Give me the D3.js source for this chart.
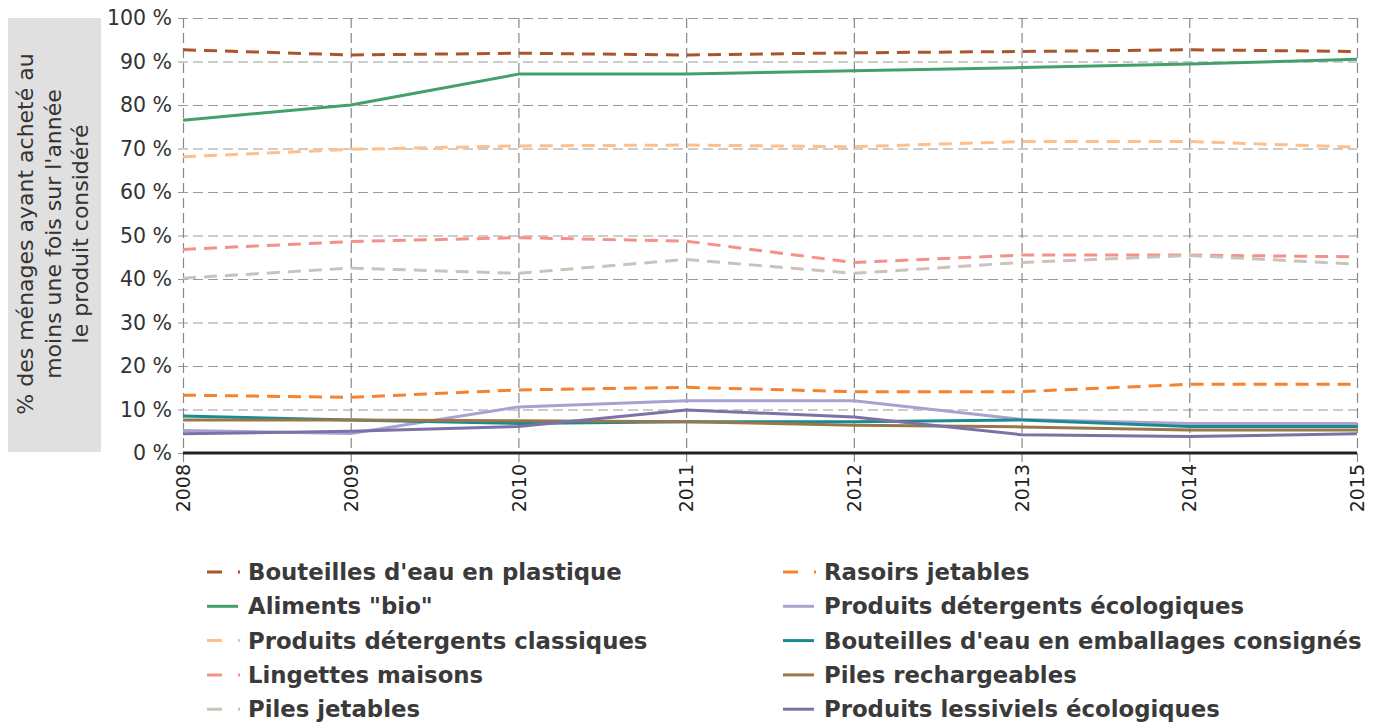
<!DOCTYPE html>
<html><head><meta charset="utf-8">
<script src="https://cdn.jsdelivr.net/npm/d3@7"></script>
<style>body{margin:0;background:#fff;} svg{display:block;font-family:"DejaVu Sans",sans-serif;}</style>
</head><body>
<svg id="c" width="1386" height="725"></svg>
<script>
const years = [2008, 2009, 2010, 2011, 2012, 2013, 2014, 2015];
const yTicks = [0, 10, 20, 30, 40, 50, 60, 70, 80, 90, 100];
const seriesNames = [
  "Bouteilles d'eau en plastique", "Aliments \"bio\"", "Produits détergents classiques",
  "Lingettes maisons", "Piles jetables", "Rasoirs jetables",
  "Produits détergents écologiques", "Bouteilles d'eau en emballages consignés",
  "Piles rechargeables", "Produits lessiviels écologiques"
];
const bouteillesPlastique = [92.7, 91.5, 91.9, 91.5, 92.0, 92.3, 92.7, 92.3];
const alimentsBio = [76.5, 80.0, 87.1, 87.1, 87.9, 88.6, 89.4, 90.5];
const detergentsClassiques = [68.1, 69.8, 70.6, 70.8, 70.4, 71.6, 71.6, 70.3];
const lingettes = [46.8, 48.6, 49.5, 48.7, 43.8, 45.5, 45.5, 45.1];
const pilesJetables = [40.2, 42.5, 41.3, 44.5, 41.3, 43.8, 45.4, 43.4];
const rasoirs = [13.3, 12.8, 14.5, 15.1, 14.1, 14.1, 15.8, 15.8];
const detergentsEco = [5.2, 4.5, 10.6, 12.0, 12.0, 7.7, 6.8, 6.8];
const bouteillesConsignes = [8.5, 7.6, 6.8, 7.2, 7.2, 7.6, 6.1, 6.1];
const pilesRechargeables = [7.6, 7.6, 7.4, 7.2, 6.4, 6.0, 5.3, 5.3];
const lessiviels = [4.4, 5.0, 6.1, 9.9, 8.3, 4.2, 3.8, 4.4];

const seriesValues = [bouteillesPlastique, alimentsBio, detergentsClassiques, lingettes, pilesJetables,
  rasoirs, detergentsEco, bouteillesConsignes, pilesRechargeables, lessiviels];
const colors = ["#a9542b", "#43a06c", "#fdc08c", "#f4918a", "#cbc3ba",
  "#f5822f", "#a9a1d0", "#1a8a8f", "#98784a", "#7d72a6"];
const dashed = [true, false, true, true, true, true, false, false, false, false];

const svg = d3.select("#c");
const L = 183, R = 1357, T = 18, B = 453;
const x = d3.scalePoint().domain(years).range([L, R]);
const y = d3.scaleLinear().domain([0, 100]).range([B, T]);

// y-axis label box
svg.append("rect").attr("x", 8).attr("y", 18).attr("width", 93).attr("height", 434).attr("fill", "#e0e0e0");
const lblLines = ["% des ménages ayant acheté au", "moins une fois sur l'année", "le produit considéré"];
const lbl = svg.append("text").attr("transform", "translate(53,234) rotate(-90)")
  .attr("text-anchor", "middle").attr("font-size", 22).attr("fill", "#333");
lblLines.forEach((t, i) => lbl.append("tspan").attr("x", 0).attr("y", (i - 1) * 27.5).attr("dy", "0.35em").text(t));

// horizontal grid
const yAxis = d3.axisLeft(y).tickValues(yTicks).tickFormat(d => d + " %").tickSize(-(R - L) - 5).tickPadding(6);
const gy = svg.append("g").attr("transform", `translate(${L - 5},0)`).call(yAxis);
gy.select(".domain").remove();
gy.selectAll(".tick line").attr("stroke", "#999").attr("stroke-dasharray", "10,5").attr("stroke-width", 1.2);
gy.selectAll(".tick text").attr("font-size", 20.5).attr("fill", "#333").attr("font-family", "DejaVu Sans");

// vertical grid
const xAxis = d3.axisBottom(x).tickSize(-(B - T)).tickSizeOuter(0).tickPadding(0);
const gx = svg.append("g").attr("transform", `translate(0,${B + 9})`).call(xAxis);
gx.select(".domain").remove();
gx.selectAll(".tick line").attr("y1", -(B - T) - 9).attr("y2", 0).attr("stroke", "#888").attr("stroke-dasharray", "10,5").attr("stroke-width", 1.2);
gx.selectAll(".tick text").attr("font-size", 19).attr("fill", "#222").attr("font-family", "DejaVu Sans")
  .attr("text-anchor", "end").attr("x", -2).attr("y", 0).attr("dy", "0.35em")
  .attr("transform", "rotate(-90)");

// baseline
svg.append("line").attr("x1", L).attr("x2", R).attr("y1", y(0)).attr("y2", y(0)).attr("stroke", "#222").attr("stroke-width", 3);

// lines
const line = d3.line().x((d, i) => x(years[i])).y(d => y(d));
seriesValues.forEach((vals, k) => {
  svg.append("path").attr("d", line(vals)).attr("fill", "none").attr("stroke", colors[k])
    .attr("stroke-width", 3).attr("stroke-linejoin", "round")
    .attr("stroke-dasharray", dashed[k] ? "13,8" : null);
});

// legend
const legX = [207, 783], legY0 = 572, legDy = 34.3;
seriesNames.forEach((name, k) => {
  const col = k < 5 ? 0 : 1, row = k % 5;
  const g = svg.append("g").attr("transform", `translate(${legX[col]},${legY0 + row * legDy})`);
  g.append("line").attr("x1", 0).attr("x2", dashed[k] ? 33 : 31).attr("y1", 0).attr("y2", 0)
    .attr("stroke", colors[k]).attr("stroke-width", 3)
    .attr("stroke-dasharray", dashed[k] ? "15,16" : null);
  g.append("text").attr("x", 41).attr("y", 0).attr("dy", "0.35em").attr("font-size", 22.8)
    .attr("font-weight", "bold").attr("fill", "#3a3a3a").text(name);
});
</script>
</body></html>
